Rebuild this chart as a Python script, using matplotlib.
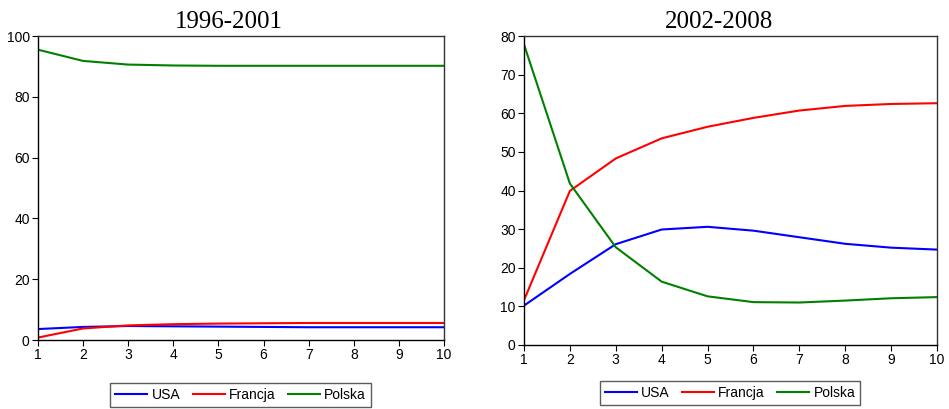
import matplotlib
matplotlib.use("Agg")
import matplotlib.pyplot as plt

plt.rcParams["font.family"] = ["Liberation Sans", "DejaVu Sans"]

horizon = list(range(1, 11))
series_names = ["USA", "Francja", "Polska"]
colors = ["#0000ff", "#ff0000", "#008000"]

# 1996-2001
usa_1 = [3.6, 4.3, 4.6, 4.5, 4.4, 4.3, 4.2, 4.2, 4.2, 4.2]
fra_1 = [0.8, 3.8, 4.8, 5.2, 5.4, 5.5, 5.6, 5.6, 5.6, 5.6]
pol_1 = [95.5, 91.8, 90.6, 90.3, 90.2, 90.2, 90.2, 90.2, 90.2, 90.2]

# 2002-2008
usa_2 = [10.2, 18.4, 26.1, 29.9, 30.6, 29.6, 27.9, 26.2, 25.2, 24.7]
fra_2 = [11.6, 39.9, 48.3, 53.5, 56.5, 58.8, 60.7, 61.9, 62.4, 62.6]
pol_2 = [77.8, 41.8, 25.3, 16.4, 12.6, 11.1, 11.0, 11.5, 12.1, 12.4]

fig = plt.figure(figsize=(9.49, 4.09), dpi=100)
ax1 = fig.add_axes([38 / 949, 1 - 340 / 409, 406 / 949, 304 / 409])
ax2 = fig.add_axes([524 / 949, 1 - 345 / 409, 413 / 949, 309 / 409])


def draw(ax, data, ymax, ystep, title, title_x, legend_x, legend_y):
    for vals, name, c in zip(data, series_names, colors):
        ax.plot(horizon, vals, color=c, lw=1.5, label=name)
    ax.set_xlim(1, 10)
    ax.set_ylim(0, ymax)
    ax.set_xticks(horizon)
    ax.set_yticks(range(0, ymax + 1, ystep))
    ax.tick_params(direction="out", length=4, width=0.8, labelsize=10, pad=2,
                   top=False, right=False)
    for s in ["left", "bottom"]:
        ax.spines[s].set_color("black")
        ax.spines[s].set_linewidth(1.0)
    for s in ["top", "right"]:
        ax.spines[s].set_color("#333333")
        ax.spines[s].set_linewidth(1.0)
    fig.text(title_x / 949, 1 - 28 / 409, title, ha="center", va="baseline",
             fontsize=18, family="Liberation Serif")
    leg = ax.legend(loc="upper center", bbox_to_anchor=(legend_x / 949, 1 - legend_y / 409),
                    bbox_transform=fig.transFigure, ncol=3, fontsize=10,
                    frameon=True, fancybox=False, handlelength=2.3,
                    columnspacing=0.9, handletextpad=0.3, borderpad=0.35,
                    borderaxespad=0)
    leg.get_frame().set_edgecolor("#333333")
    leg.get_frame().set_linewidth(1.0)


draw(ax1, [usa_1, fra_1, pol_1], 100, 20, "1996-2001", 229, 240.5, 383)
draw(ax2, [usa_2, fra_2, pol_2], 80, 10, "2002-2008", 719, 730, 381)

fig.savefig("out.png", dpi=100)
